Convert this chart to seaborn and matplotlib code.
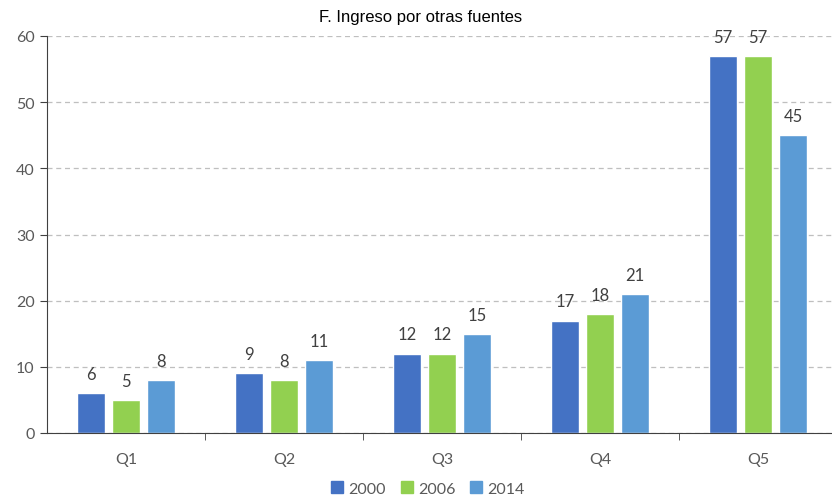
import matplotlib
matplotlib.use("Agg")
import matplotlib.pyplot as plt
import seaborn as sns
import pandas as pd
from matplotlib.lines import Line2D

categories = ["Q1", "Q2", "Q3", "Q4", "Q5"]
years = ["2000", "2006", "2014"]
v2000 = [6, 9, 12, 17, 57]
v2006 = [5, 8, 12, 18, 57]
v2014 = [8, 11, 15, 21, 45]
colors = ["#4472C4", "#92D050", "#5B9BD5"]

df = pd.DataFrame({
    "cat": categories * 3,
    "year": [years[0]] * 5 + [years[1]] * 5 + [years[2]] * 5,
    "val": v2000 + v2006 + v2014,
})

sns.set_style("white")
plt.rcParams["font.family"] = ["Lato", "DejaVu Sans"]

fig = plt.figure(figsize=(8.32, 5.02), dpi=100)
ax = fig.add_axes([47 / 832, (502 - 434) / 502, 790 / 832, 397 / 502])

sns.barplot(data=df, x="cat", y="val", hue="year", palette=colors,
            width=0.666, gap=0.2, ax=ax, legend=False, saturation=1)

for cont in ax.containers:
    ax.bar_label(cont, padding=8, fontsize=12, color="#404040")

ax.set_ylim(0, 60)
ax.set_xlim(-0.5, 4.5)
ax.set_yticks(range(0, 61, 10))
ax.yaxis.grid(True, linestyle=(0, (4, 3)), color="#BFBFBF", linewidth=0.9)
ax.set_axisbelow(True)
for s in ["top", "right"]:
    ax.spines[s].set_visible(False)
ax.spines["left"].set_color("#404040")
ax.spines["bottom"].set_color("#404040")
ax.tick_params(axis="y", length=5, color="#404040", labelcolor="#595959",
               labelsize=11.5, left=True, pad=4)
ax.tick_params(axis="x", length=0, labelcolor="#595959", labelsize=11.5, pad=14)
ax.set_xticks(range(5))
ax.set_xticklabels(categories)
ax.set_xticks([0.5, 1.5, 2.5, 3.5], minor=True)
ax.tick_params(axis="x", which="minor", length=5, color="#404040", bottom=True)
ax.set_xlabel("")
ax.set_ylabel("")

fig.text(0.505, 0.966, "F. Ingreso por otras fuentes", ha="center", va="center",
         fontsize=12, family=["Liberation Sans", "DejaVu Sans"], color="#000000")

handles = [Line2D([], [], marker="s", linestyle="", markersize=8,
                  markerfacecolor=c, markeredgecolor=c) for c in colors]
fig.legend(handles, years, loc="center", bbox_to_anchor=(0.514, 0.024), ncol=3,
           frameon=False, fontsize=11.5, handlelength=0.8, handletextpad=0.3,
           columnspacing=0.9, labelcolor="#595959")

fig.savefig("out.png", dpi=100)
